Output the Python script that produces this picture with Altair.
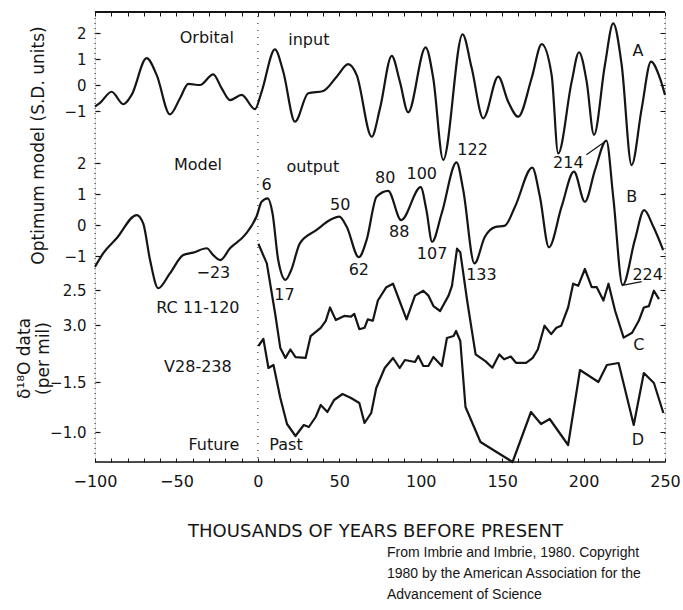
import altair as alt
import pandas as pd

# Curve A: orbital input (S.D. units) against age (kyr before present)
A_AGE = [-100, -96.9, -89.8, -82.6, -77.5, -68.3, -62.1, -54.0, -47.8, -42.7,
         -35.6, -27.4, -22.2, -17.1, -9.9, -1.8, 2.3, 10.5, 15.6, 22.8,
         30.9, 40.2, 48.4, 55.5, 60.7, 69.9, 75.0, 82.2, 87.2, 92.3,
         103.0, 107.7, 113.8, 125.7, 131.3, 138.4, 147.6, 153.7, 159.9, 168.1,
         174.3, 180.4, 184.4, 192.7, 197.2, 201.9, 206.4, 213.1, 218.2, 223.4,
         229.5, 235.7, 241.4, 246.9, 250]
A_VAL = [-0.83, -0.69, -0.26, -0.74, -0.38, 1.03, 0.38, -1.13, -0.51, 0.04,
         0.0, 0.41, -0.13, -0.58, -0.38, -0.93, -0.26, 1.37, 0.51, -1.41,
         -0.32, -0.23, 0.32, 0.80, 0.38, -1.99, -0.90, 1.12, 0.13, -1.05,
         1.45, 0.26, -2.88, 1.95, 0.65, -1.28, 0.32, -0.64, -1.22, 0.26,
         1.57, 0.38, -2.63, 0.13, 1.26, 0.13, -1.92, 0.77, 2.37, 0.77,
         -3.08, -0.90, 0.90, 0.26, -0.38]

# Curve B: model output (S.D. units)
B_AGE = [-100, -94.9, -86.7, -74.4, -70.4, -66.2, -61.2, -54.0, -45.8, -39.7,
         -31.4, -27.4, -23, -17.1, -7.9, -0.7, 2.3, 6, 9.0, 12.5,
         17, 20.5, 25.8, 36.1, 44.3, 50, 54.5, 62, 66.8, 72.9,
         80, 88, 100, 103.5, 107, 112.9, 122, 126.1, 133, 139.4,
         145.6, 151.7, 157.9, 168.5, 173.2, 178.7, 186.5, 194.1, 200.8, 207.0,
         214, 218.2, 224, 231.5, 237.2, 242.8, 248.9]
B_VAL = [-1.35, -0.91, -0.43, 0.32, 0.05, -1.13, -2.04, -1.56, -0.97, -0.89,
         -0.75, -0.97, -1.13, -0.75, -0.32, 0.29, 0.75, 0.86, 0.38, -1.13,
         -1.77, -1.45, -0.59, -0.16, 0.16, 0.27, -0.05, -1.04, -0.48, 0.91,
         1.10, 0.16, 1.22, 0.48, -0.54, 0.38, 2.02, 1.13, -1.24, -0.38,
         -0.07, -0.02, 0.59, 1.85, 0.91, -0.72, 0.59, 1.72, 0.75, 1.77,
         2.72, 0.91, -1.94, -0.48, 0.48, -0.05, -0.81]

# Curve C: RC 11-120 delta-18O (per mil)
C_AGE = [0.3, 5.5, 10.7, 13.8, 16.9, 20.0, 23.1, 29.3, 32.4, 38.6,
         41.7, 44.3, 47.9, 53.0, 57.2, 59.2, 62.3, 65.5, 67.5, 70.6,
         73.7, 78.9, 83.0, 86.1, 91.3, 96.5, 101.6, 104.7, 107.8, 111.9,
         117.1, 119.2, 122.3, 124.3, 128.5, 133.7, 139.9, 144.0, 148.2, 151.2,
         155.3, 158.5, 164.7, 168.8, 171.9, 176.0, 180.1, 183.3, 186.3, 190.5,
         193.6, 196.7, 200.8, 205.0, 208.1, 212.2, 215.3, 219.4, 224.6, 229.8,
         233.9, 237.0, 240.1, 243.2, 246.3]
C_VAL = [1.84, 2.12, 2.85, 3.33, 3.47, 3.35, 3.46, 3.47, 3.16, 3.04,
         2.94, 2.75, 2.93, 2.87, 2.88, 2.84, 3.06, 3.04, 2.92, 2.94,
         2.65, 2.46, 2.41, 2.60, 2.92, 2.58, 2.51, 2.58, 2.73, 2.80,
         2.58, 2.44, 1.91, 1.96, 2.65, 3.42, 3.52, 3.61, 3.42, 3.49,
         3.45, 3.54, 3.54, 3.47, 3.35, 3.01, 3.13, 3.04, 3.01, 2.75,
         2.41, 2.44, 2.20, 2.46, 2.46, 2.65, 2.41, 2.80, 3.18, 3.11,
         2.94, 2.75, 2.73, 2.51, 2.63]

# Curve D: V28-238 delta-18O (per mil)
D_AGE = [0.3, 3.4, 6.5, 9.6, 13.8, 17.9, 23.1, 28.2, 31.3, 35.5,
         38.6, 42.7, 46.8, 52.0, 57.2, 62.3, 65.5, 69.6, 72.7, 77.9,
         83.0, 87.1, 90.3, 96.5, 98.5, 101.6, 104.7, 107.8, 113.0, 116.1,
         120.2, 121.7, 124.3, 127.5, 136.7, 156.4, 167.7, 173.9, 179.2, 190.5,
         197.8, 209.1, 214.3, 221.5, 230.8, 237.0, 243.2, 249.0]
D_VAL = [-1.86, -1.93, -1.64, -1.67, -1.34, -1.08, -0.96, -1.07, -1.05, -1.15,
         -1.27, -1.20, -1.32, -1.38, -1.34, -1.29, -1.09, -1.19, -1.44, -1.64,
         -1.74, -1.64, -1.72, -1.70, -1.76, -1.66, -1.66, -1.75, -1.66, -1.94,
         -1.96, -2.01, -1.91, -1.25, -0.90, -0.70, -1.20, -1.08, -1.13, -0.87,
         -1.62, -1.50, -1.67, -1.69, -1.07, -1.59, -1.49, -1.19]

# Labelled extrema of the model output: age, label offset (px right, px down)
B_EXTREMA = [(-23, -7, 13), (6, -1, -13), (17, -1, 15), (50, 1, -12), (62, 0, 13),
             (80, -3, -13), (88, -2, 12), (100, 1, -13), (107, 0, 12), (122, 16, -12),
             (133, 7, 12), (214, -38, 22), (224, 25, -10)]
# Leader strokes from an extremum: age, start offset px, end offset px
B_LEADERS = [(214, (-1.5, 1), (-20, 14)), (224, (1, 0), (19, -3.5))]

# Curve names and captions, placed in each curve's own units
A_TEXT = [("Orbital", -31.3, 1.81), ("input", 31.3, 1.73), ("A", 233.4, 1.31)]
B_TEXT = [("Model", -36.8, 1.94), ("output", 33.8, 1.87), ("B", 229.5, 0.91)]
C_TEXT = [("RC 11-120", -36.8, 2.76), ("C", 234.0, 3.28)]
D_TEXT = [("V28-238", -36.8, -1.65), ("D", 233.3, -0.92),
          ("Future", -27.0, -0.87), ("Past", 17.3, -0.87)]

A_TICKS = [2, 1, 0, -1]
B_TICKS = [2, 1, 0, -1]
C_TICKS = [2.5, 3.0]
D_TICKS = [-1.5, -1.0]
X_TICKS = list(range(-100, 251, 10))

CREDIT = ["From Imbrie and Imbrie, 1980. Copyright",
          "1980 by the American Association for the",
          "Advancement of Science"]

# ---------------------------------------------------------------- layout
W, H = 570, 450
X_MIN, X_MAX = -100, 250
PX_PER_KYR = W / (X_MAX - X_MIN)
INK = "#151515"
FONT = "DejaVu Sans"

x_scale = alt.Scale(domain=[X_MIN, X_MAX], nice=False, zero=False)


def band_scale(v1, p1, v2, p2):
    """Linear y scale that puts value v1 at p1 px and v2 at p2 px below the top."""
    slope = (p2 - p1) / (v2 - v1)
    v_top = v1 - p1 / slope
    v_bottom = v1 + (H - p1) / slope
    if slope < 0:
        return alt.Scale(domain=[v_bottom, v_top], nice=False, zero=False), -slope
    return alt.Scale(domain=[v_top, v_bottom], nice=False, zero=False, reverse=True), -slope


A_SCALE, A_K = band_scale(2, 21, -1, 99)
B_SCALE, B_K = band_scale(2, 151, -1, 244)
C_SCALE, C_K = band_scale(2.5, 278, 3.0, 313)
D_SCALE, D_K = band_scale(-1.5, 370, -1.0, 420)


def left_axis(values, fmt, **extra):
    opts = dict(orient="left", values=values, format=fmt, offset=-5, tickSize=5,
                tickColor=INK, tickWidth=1.2, labelPadding=9, labelFont=FONT,
                labelFontSize=15, labelColor=INK, labelFlush=False,
                labelOverlap=False, domain=False, grid=False, title=None)
    opts.update(extra)
    return alt.Axis(**opts)


def right_axis(values):
    return alt.Axis(orient="right", values=values, offset=-5, tickSize=5,
                    tickColor=INK, tickWidth=1, labels=False, domain=False,
                    grid=False, title=None)


bottom_axis = alt.Axis(
    orient="bottom", values=X_TICKS, offset=-4, tickSize=4, tickColor=INK,
    labelExpr="datum.value % 50 == 0 ? datum.label : ''",
    labelFont=FONT, labelFontSize=16, labelColor=INK, labelPadding=11,
    labelFlush=False, labelOverlap=False, domain=False, grid=False,
    title="THOUSANDS OF YEARS BEFORE PRESENT", titleFont=FONT, titleFontSize=18,
    titleFontWeight="normal", titleColor=INK, titlePadding=33, titleX=W / 2 - 5)

top_axis = alt.Axis(orient="top", values=X_TICKS, offset=-4, tickSize=4,
                    tickColor=INK, labels=False, domain=False, grid=False,
                    title=None)

TITLE_STYLE = dict(titleAngle=270, titleAlign="center", titleBaseline="middle",
                   titleFont=FONT, titleFontSize=17, titleFontWeight="normal",
                   titleColor=INK)


def curve_layers(ages, vals, scale, k, interp, y_axis, ticks, texts,
                 extrema=None, leaders=None):
    """Line, its captions and right-hand ticks, sharing one y mapping."""
    line = alt.Chart(pd.DataFrame({"age": ages, "val": vals})).mark_line(
        interpolate=interp, color=INK, strokeWidth=2.2, strokeJoin="round"
    ).encode(
        x=alt.X("age:Q", scale=x_scale, axis=None),
        y=alt.Y("val:Q", scale=scale, axis=y_axis),
    )
    rows = [{"t": t, "x": x, "y": y} for t, x, y in texts]
    lookup = dict(zip(ages, vals))
    for age, dx, dy in extrema or []:
        label = str(age).replace("-", "\u2212")
        rows.append({"t": label, "x": age + dx / PX_PER_KYR,
                     "y": lookup[age] - dy / k})
    text = alt.Chart(pd.DataFrame(rows)).mark_text(
        font=FONT, fontSize=16, color=INK, align="center", baseline="middle"
    ).encode(
        x=alt.X("x:Q", scale=x_scale, axis=None),
        y=alt.Y("y:Q", scale=scale, axis=right_axis(ticks)),
        text="t:N",
    )
    layers = [line, text]
    if leaders:
        segs = []
        for age, (sx, sy), (ex, ey) in leaders:
            segs.append({"x": age + sx / PX_PER_KYR, "y": lookup[age] - sy / k,
                         "x2": age + ex / PX_PER_KYR, "y2": lookup[age] - ey / k})
        layers.append(alt.Chart(pd.DataFrame(segs)).mark_rule(
            color=INK, strokeWidth=1.2
        ).encode(
            x=alt.X("x:Q", scale=x_scale, axis=None), x2="x2:Q",
            y=alt.Y("y:Q", scale=scale, axis=None), y2="y2:Q",
        ))
    return layers


layers_a = curve_layers(A_AGE, A_VAL, A_SCALE, A_K, "monotone",
                        left_axis(A_TICKS, "d", title="Optimum model (S.D. units)",
                                  titleX=-62, titleY=133, **TITLE_STYLE),
                        A_TICKS, A_TEXT)
layers_b = curve_layers(B_AGE, B_VAL, B_SCALE, B_K, "monotone",
                        left_axis(B_TICKS, "d"), B_TICKS, B_TEXT,
                        extrema=B_EXTREMA, leaders=B_LEADERS)
layers_c = curve_layers(C_AGE, C_VAL, C_SCALE, C_K, "linear",
                        left_axis(C_TICKS, ".1f",
                                  title=["\u03b4\u00b9\u2078O data", "(per mil)"],
                                  titleX=-76, titleY=346, titleLineHeight=19,
                                  **TITLE_STYLE),
                        C_TICKS, C_TEXT)
layers_d = curve_layers(D_AGE, D_VAL, D_SCALE, D_K, "linear",
                        left_axis(D_TICKS, ".1f"), D_TICKS, D_TEXT)

# Frame: top and bottom edges carry the age axes
span = pd.DataFrame({"age": [X_MIN, X_MAX]})
top_edge = alt.Chart(span).mark_line(color=INK, strokeWidth=2.2).encode(
    x=alt.X("age:Q", scale=x_scale, axis=top_axis), y=alt.value(0))
bottom_edge = alt.Chart(span).mark_line(color=INK, strokeWidth=1.6).encode(
    x=alt.X("age:Q", scale=x_scale, axis=bottom_axis), y=alt.value(H))

one = pd.DataFrame({"k": [0]})
left_spine = alt.Chart(one).mark_rule(color=INK, strokeWidth=1, strokeDash=[1, 4]).encode(
    x=alt.value(0), y=alt.value(6), y2=alt.value(H - 6))
right_spine = alt.Chart(one).mark_rule(color=INK, strokeWidth=1, strokeDash=[1, 4]).encode(
    x=alt.value(W), y=alt.value(6), y2=alt.value(H - 6))
present = alt.Chart(pd.DataFrame({"age": [0]})).mark_rule(
    color=INK, strokeWidth=1, strokeDash=[1, 6]
).encode(
    x=alt.X("age:Q", scale=x_scale, axis=None),
    y=alt.value(4), y2=alt.value(H - 4),
)

chart = alt.layer(
    bottom_edge, top_edge, present, left_spine, right_spine,
    *layers_a, *layers_b, *layers_c, *layers_d,
).resolve_scale(y="independent").resolve_axis(
    x="independent", y="independent"
).properties(
    width=W, height=H,
    padding={"left": 95, "top": 12, "right": 18, "bottom": 148},
    autosize=alt.AutoSizeParams(type="none"),
    title=alt.TitleParams(
        text=CREDIT, orient="bottom", anchor="start", frame="group", align="left",
        dx=292, offset=6, font="Liberation Sans Narrow, Liberation Sans, sans-serif",
        fontSize=14, fontWeight="normal", color=INK, lineHeight=21),
).configure_view(strokeWidth=0).configure(background="white")

chart.save("out.html", embed_options={"renderer": "svg", "actions": False})
